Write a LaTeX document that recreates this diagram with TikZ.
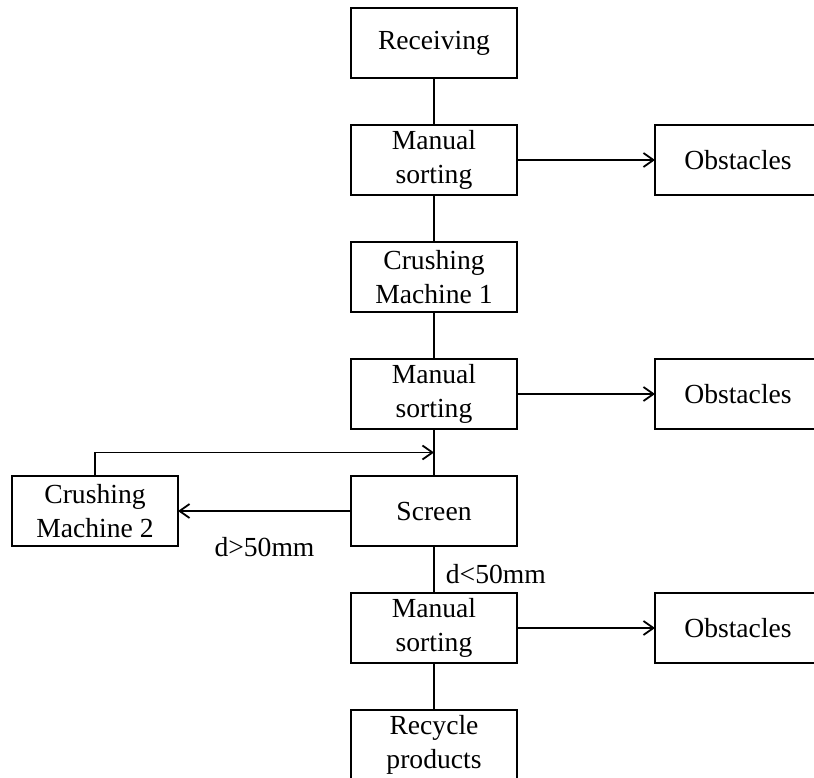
\documentclass[tikz,border=0pt]{standalone}
\usepackage{fontspec}
\setmainfont{Liberation Serif}
\usetikzlibrary{arrows.meta, positioning, calc}

\begin{document}
\begin{tikzpicture}[x=1pt, y=1pt, line width=1.8pt, >={Straight Barb[length=10pt,width=14pt]}, node distance=47pt,
    box/.style={draw, minimum width=166pt, minimum height=70pt, inner sep=0pt, outer sep=0pt, align=center, font=\fontsize{27.6pt}{34pt}\selectfont},
    lbl/.style={inner sep=0pt, font=\fontsize{27.6pt}{34pt}\selectfont}]

  \useasboundingbox (0,0) rectangle (814,-778);
  \clip (0,0) rectangle (814,-778);

  \node[box] (rcv) at (434,-43) {Receiving};
  \node[box] (ms1) [below=of rcv] {Manual\\sorting};
  \node[box] (cm1) [below=of ms1] {Crushing\\Machine 1};
  \node[box] (ms2) [below=of cm1] {Manual\\sorting};
  \node[box] (scr) [below=of ms2] {Screen};
  \node[box] (ms3) [below=of scr] {Manual\\sorting};
  \node[box] (rp)  [below=of ms3] {Recycle\\products};

  \node[box] (obs1) [right=138pt of ms1] {Obstacles};
  \node[box] (obs2) [right=138pt of ms2] {Obstacles};
  \node[box] (obs3) [right=138pt of ms3] {Obstacles};
  \node[box] (cm2)  [left=173pt of scr] {Crushing\\Machine 2};

  \coordinate (join) at ($(ms2.south)!0.5!(scr.north)$);

  \path (rcv) edge (ms1)
        (ms1) edge (cm1)
        (cm1) edge (ms2)
        (ms2) edge (scr)
        (scr) edge node[lbl, right=11pt, yshift=-5pt] {d<50mm} (ms3)
        (ms3) edge (rp)
        (ms1) edge[->] (obs1)
        (ms2) edge[->] (obs2)
        (ms3) edge[->] (obs3)
        (scr) edge[->] node[lbl, below=25pt] {d>50mm} (cm2);

  \draw[->] (cm2.north) |- (join);

\end{tikzpicture}
\end{document}
